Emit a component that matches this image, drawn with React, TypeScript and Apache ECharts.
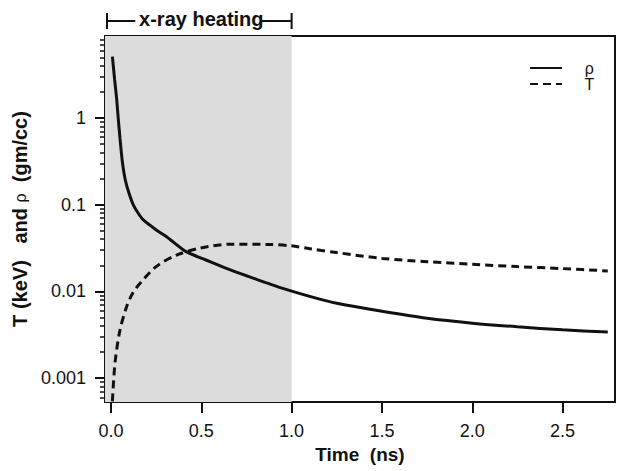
import React, { useEffect, useRef } from 'react';
import * as echarts from 'echarts';

// ---- data ----
const rhoTime = [0.008, 0.02, 0.031, 0.04, 0.05, 0.064, 0.08, 0.1, 0.123, 0.15, 0.178, 0.251, 0.306, 0.416, 0.526, 0.65, 0.764, 0.947, 1.14, 1.25, 1.5, 1.75, 2.0, 2.25, 2.5, 2.75];
const rhoValues = [5.1, 2.8, 1.7, 1.0, 0.58, 0.3, 0.19, 0.135, 0.1, 0.08, 0.067, 0.051, 0.043, 0.0287, 0.023, 0.018, 0.0148, 0.0109, 0.0083, 0.0073, 0.0059, 0.0049, 0.0043, 0.0039, 0.0036, 0.0034];
const tTime = [0.008, 0.022, 0.049, 0.086, 0.12, 0.16, 0.25, 0.36, 0.49, 0.67, 0.86, 1.0, 1.1, 1.25, 1.5, 1.75, 2.0, 2.25, 2.5, 2.75];
const tValues = [0.00054, 0.00147, 0.0035, 0.0066, 0.0095, 0.0123, 0.0193, 0.026, 0.0314, 0.035, 0.0348, 0.0335, 0.031, 0.028, 0.024, 0.022, 0.0205, 0.0193, 0.0183, 0.0172];
const xTickLabels = [0, 0.5, 1.0, 1.5, 2.0, 2.5];
const yTickLabels = [0.001, 0.01, 0.1, 1];
const yMinorTicks = [
  0.0006, 0.0007, 0.0008, 0.0009,
  0.002, 0.003, 0.004, 0.005, 0.006, 0.007, 0.008, 0.009,
  0.02, 0.03, 0.04, 0.05, 0.06, 0.07, 0.08, 0.09,
  0.2, 0.3, 0.4, 0.5, 0.6, 0.7, 0.8, 0.9,
  2, 3, 4, 5, 6, 7, 8,
];
const seriesNames = ['ρ', 'T'];
const heatingStart = -0.022;
const heatingEnd = 1.0;
const heatingLabel = 'x-ray heating';
const xRange = [-0.033, 2.79];
const yRange = [0.00053, 8.8];

const FONT = '"Liberation Sans", Arial, Helvetica, sans-serif';
const INK = '#111';

function fmtY(v: number): string {
  return String(Number(v.toPrecision(6)));
}

export default function App() {
  const ref = useRef<HTMLDivElement>(null);
  useEffect(() => {
    if (!ref.current) return;
    const chart = echarts.init(ref.current, null, { renderer: 'svg' });
    const option: any = {
      animation: false,
      backgroundColor: '#fff',
      grid: {
        left: 105, right: 6, top: 36, bottom: 69,
        show: true, borderColor: INK, borderWidth: 2, backgroundColor: 'transparent',
      },
      legend: {
        orient: 'vertical', left: 524, top: 55,
        itemWidth: 32, itemHeight: 10, itemGap: 0,
        data: seriesNames,
        itemStyle: { opacity: 0 },
        formatter: (n: string) => '    ' + n,
        textStyle: { fontFamily: FONT, fontSize: 16, color: INK, lineHeight: 14 },
      },
      xAxis: {
        type: 'value', min: xRange[0], max: xRange[1],
        name: 'Time  (ns)', nameLocation: 'middle', nameGap: 32,
        nameTextStyle: { fontFamily: FONT, fontSize: 19, fontWeight: 'bold', color: INK },
        axisLine: { show: true, onZero: false, lineStyle: { color: INK, width: 2 } },
        axisTick: { show: true, inside: false, length: 11, customValues: xTickLabels, lineStyle: { color: INK, width: 2 } },
        axisLabel: {
          customValues: xTickLabels, formatter: (v: number) => v.toFixed(1),
          fontFamily: FONT, fontSize: 18, color: INK, margin: 20,
        },
        splitLine: { show: false },
      },
      yAxis: [
        {
          type: 'log', logBase: 10, min: yRange[0], max: yRange[1], position: 'left',
          name: '{b|T (keV)   and }{r|ρ}{b|  (gm/cc)}', nameLocation: 'middle', nameGap: 68, nameRotate: 90,
          nameTextStyle: {
            color: INK,
            rich: {
              b: { fontFamily: FONT, fontSize: 20, fontWeight: 'bold', color: INK },
              r: { fontFamily: FONT, fontSize: 16, color: INK },
            },
          },
          axisLine: { show: true, onZero: false, lineStyle: { color: INK, width: 2 } },
          axisTick: { show: true, inside: false, length: 10, customValues: yTickLabels, lineStyle: { color: INK, width: 2 } },
          axisLabel: {
            customValues: yTickLabels, formatter: (v: number) => fmtY(v),
            fontFamily: FONT, fontSize: 18, color: INK, margin: 19,
          },
          splitLine: { show: false },
          minorTick: { show: false },
        },
        {
          type: 'log', logBase: 10, min: yRange[0], max: yRange[1], position: 'left',
          axisLine: { show: false, onZero: false },
          axisTick: { show: true, inside: false, length: 5, customValues: yMinorTicks, lineStyle: { color: INK, width: 1.5 } },
          axisLabel: { show: false },
          splitLine: { show: false },
        },
      ],
      series: [
        {
          name: seriesNames[0], type: 'line', yAxisIndex: 0,
          data: rhoTime.map((t, i) => [t, rhoValues[i]]),
          symbol: 'none', smooth: 0.25, z: 5,
          lineStyle: { color: INK, width: 3, type: 'solid' },
          itemStyle: { color: INK },
          markArea: {
            silent: true,
            itemStyle: { color: '#dcdcdc' },
            data: [[{ xAxis: xRange[0] }, { xAxis: heatingEnd }]],
          },
        },
        {
          name: seriesNames[1], type: 'line', yAxisIndex: 0,
          data: tTime.map((t, i) => [t, tValues[i]]),
          symbol: 'none', smooth: 0.3, z: 5,
          lineStyle: { color: INK, width: 3, type: [8, 5] },
          itemStyle: { color: INK },
        },
      ],
    };
    chart.setOption(option);

    const x0 = chart.convertToPixel({ xAxisIndex: 0 }, heatingStart) as number;
    const x1 = chart.convertToPixel({ xAxisIndex: 0 }, heatingEnd) as number;
    const cx = (x0 + x1) / 2 + 2;
    const yb = 21;
    const ls = { stroke: INK, lineWidth: 2 };
    chart.setOption({
      graphic: [
        { type: 'line', shape: { x1: x0, y1: 13, x2: x0, y2: 29 }, style: ls },
        { type: 'line', shape: { x1: x0, y1: yb, x2: cx - 66, y2: yb }, style: ls },
        {
          type: 'text', x: cx, y: 19,
          style: { text: heatingLabel, font: `bold 20px ${FONT}`, fill: INK, align: 'center', verticalAlign: 'middle' },
        },
        { type: 'line', shape: { x1: cx + 60, y1: yb, x2: x1, y2: yb }, style: ls },
        { type: 'line', shape: { x1: x1, y1: 13, x2: x1, y2: 29 }, style: ls },
      ],
    });
    return () => chart.dispose();
  }, []);
  return <div ref={ref} style={{ width: 621, height: 471, position: 'absolute', left: 0, top: 0 }} />;
}
